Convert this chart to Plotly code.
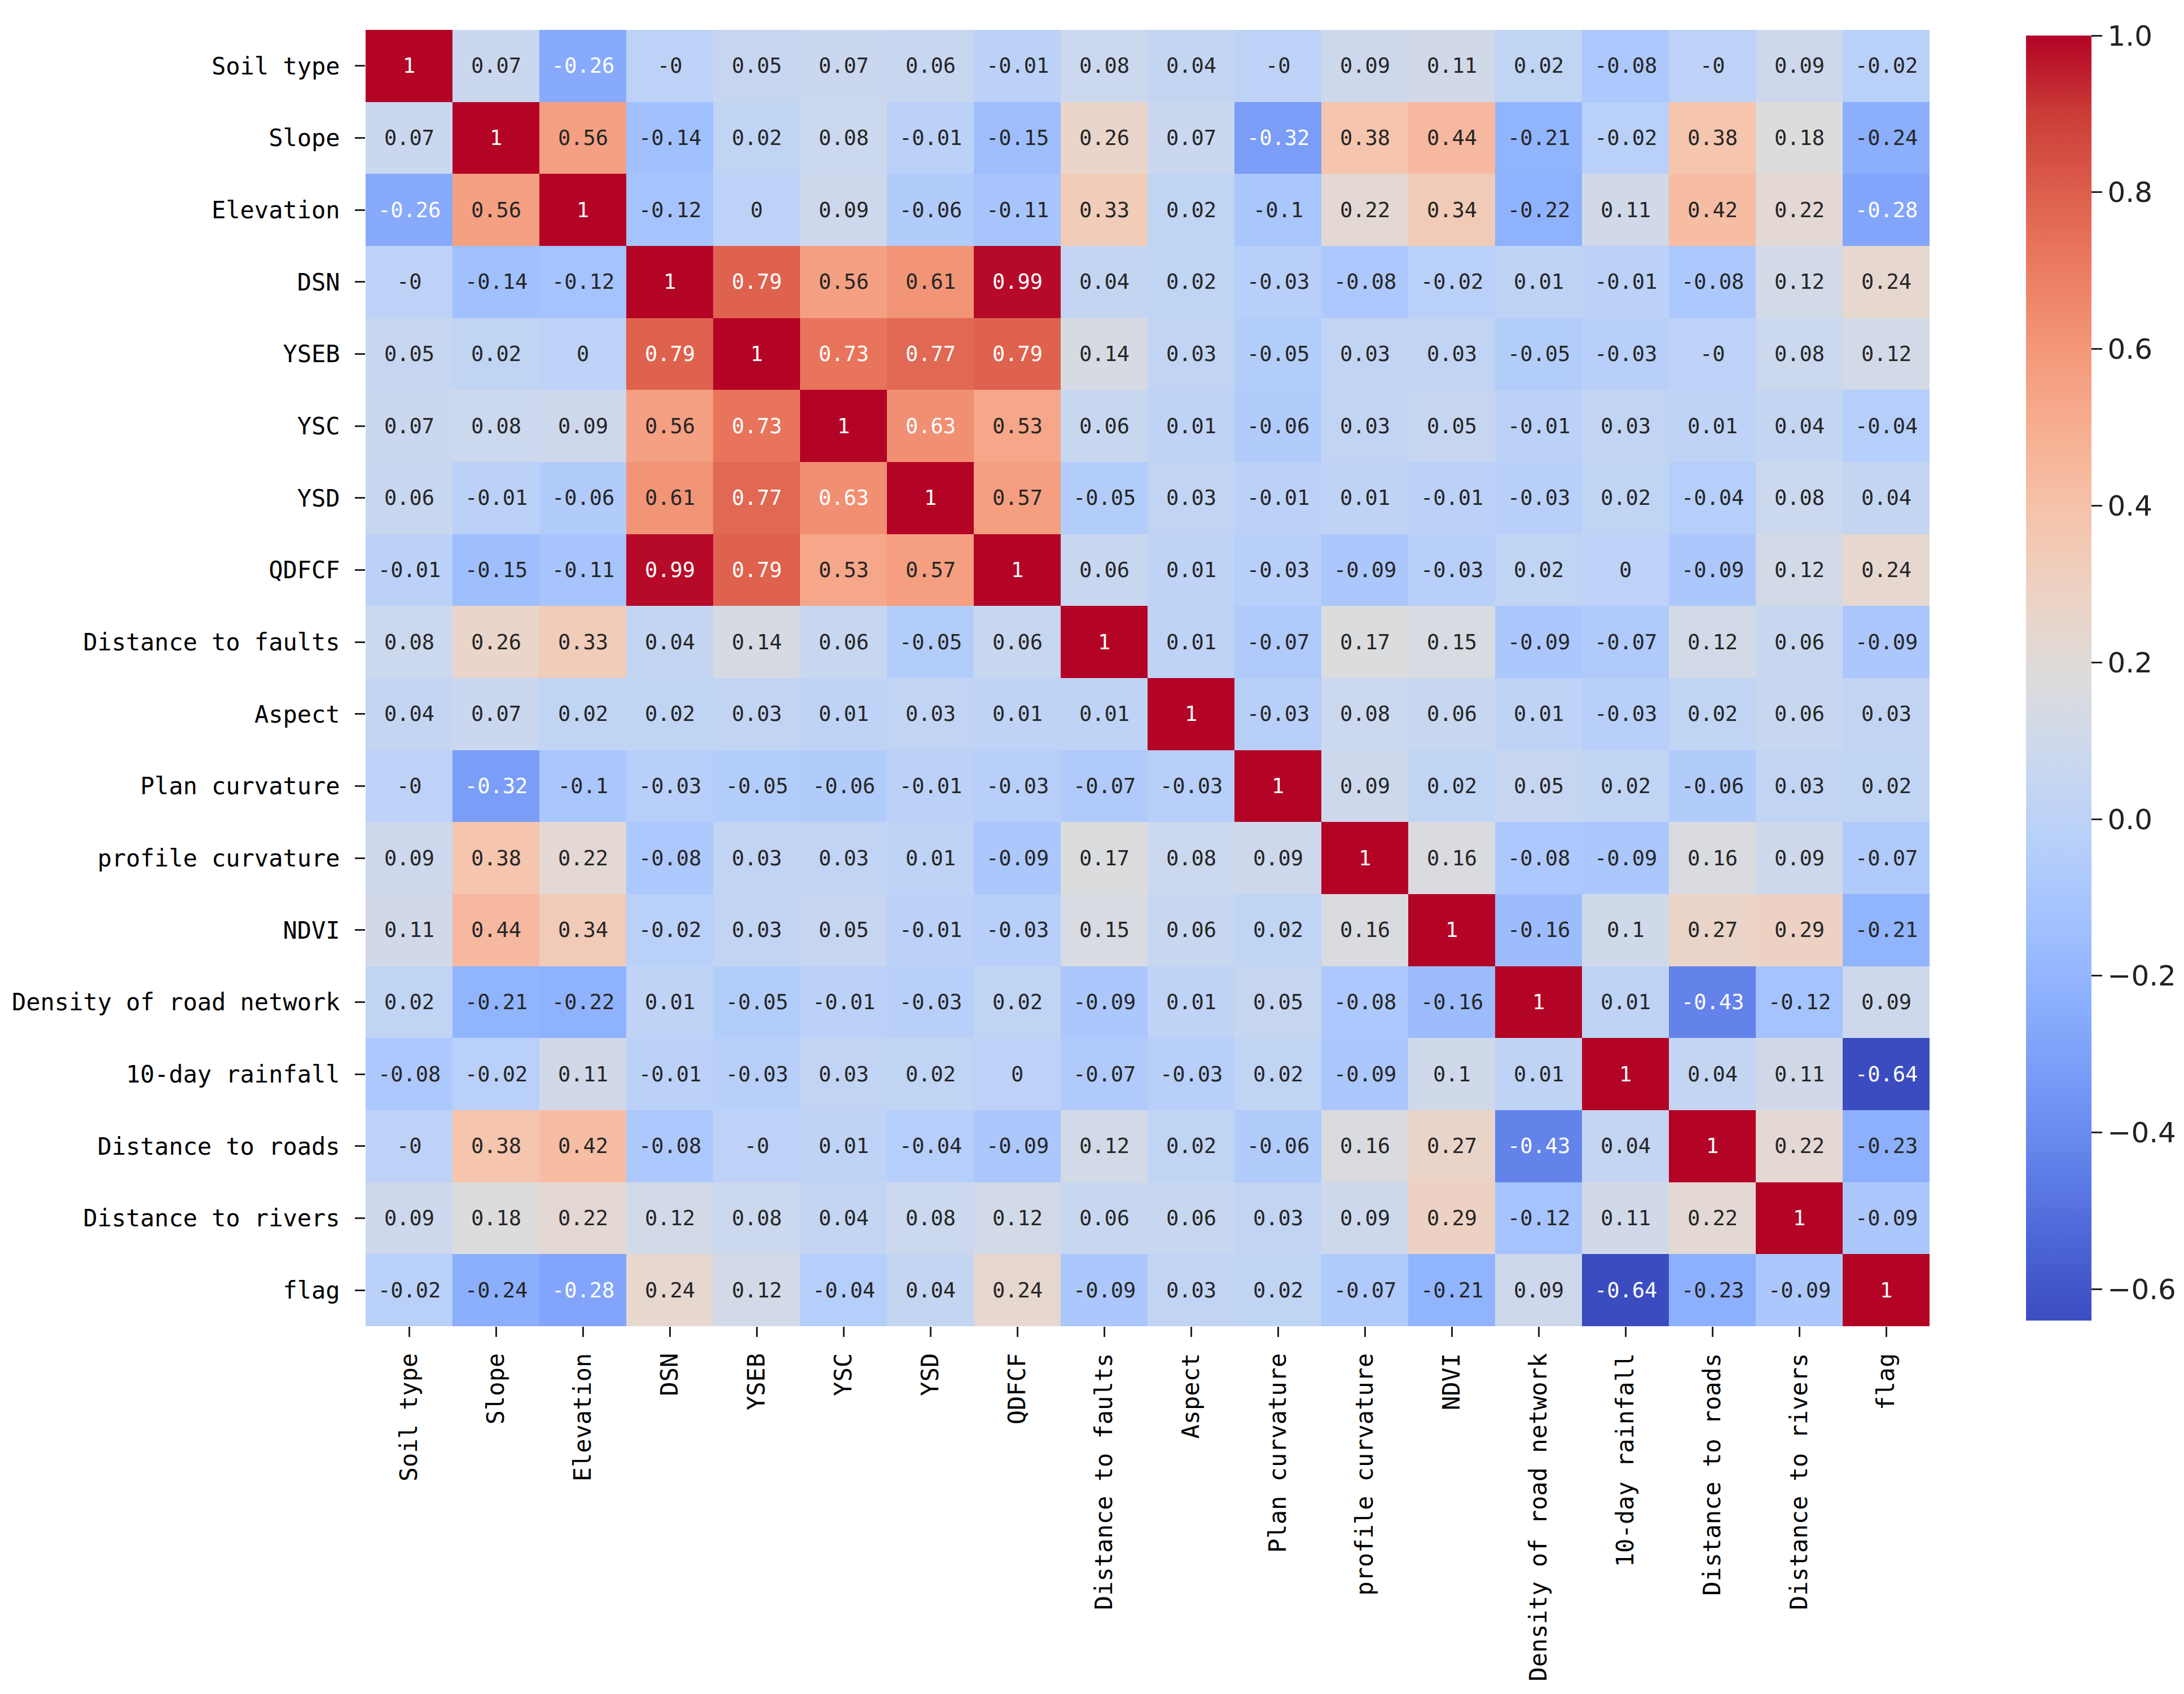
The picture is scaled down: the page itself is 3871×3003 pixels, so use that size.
import plotly.graph_objects as go

# variable names (same order on both axes)
labels = ["Soil type", "Slope", "Elevation", "DSN", "YSEB", "YSC", "YSD", "QDFCF",
          "Distance to faults", "Aspect", "Plan curvature", "profile curvature", "NDVI",
          "Density of road network", "10-day rainfall", "Distance to roads",
          "Distance to rivers", "flag"]

# correlation matrix, rows in label order (-0.0 kept so it prints as "-0")
soil_type = [1, 0.07, -0.26, -0.0, 0.05, 0.07, 0.06, -0.01, 0.08, 0.04, -0.0, 0.09, 0.11, 0.02, -0.08, -0.0, 0.09, -0.02]
slope = [0.07, 1, 0.56, -0.14, 0.02, 0.08, -0.01, -0.15, 0.26, 0.07, -0.32, 0.38, 0.44, -0.21, -0.02, 0.38, 0.18, -0.24]
elevation = [-0.26, 0.56, 1, -0.12, 0, 0.09, -0.06, -0.11, 0.33, 0.02, -0.1, 0.22, 0.34, -0.22, 0.11, 0.42, 0.22, -0.28]
dsn = [-0.0, -0.14, -0.12, 1, 0.79, 0.56, 0.61, 0.99, 0.04, 0.02, -0.03, -0.08, -0.02, 0.01, -0.01, -0.08, 0.12, 0.24]
yseb = [0.05, 0.02, 0, 0.79, 1, 0.73, 0.77, 0.79, 0.14, 0.03, -0.05, 0.03, 0.03, -0.05, -0.03, -0.0, 0.08, 0.12]
ysc = [0.07, 0.08, 0.09, 0.56, 0.73, 1, 0.63, 0.53, 0.06, 0.01, -0.06, 0.03, 0.05, -0.01, 0.03, 0.01, 0.04, -0.04]
ysd = [0.06, -0.01, -0.06, 0.61, 0.77, 0.63, 1, 0.57, -0.05, 0.03, -0.01, 0.01, -0.01, -0.03, 0.02, -0.04, 0.08, 0.04]
qdfcf = [-0.01, -0.15, -0.11, 0.99, 0.79, 0.53, 0.57, 1, 0.06, 0.01, -0.03, -0.09, -0.03, 0.02, 0, -0.09, 0.12, 0.24]
dist_faults = [0.08, 0.26, 0.33, 0.04, 0.14, 0.06, -0.05, 0.06, 1, 0.01, -0.07, 0.17, 0.15, -0.09, -0.07, 0.12, 0.06, -0.09]
aspect = [0.04, 0.07, 0.02, 0.02, 0.03, 0.01, 0.03, 0.01, 0.01, 1, -0.03, 0.08, 0.06, 0.01, -0.03, 0.02, 0.06, 0.03]
plan_curv = [-0.0, -0.32, -0.1, -0.03, -0.05, -0.06, -0.01, -0.03, -0.07, -0.03, 1, 0.09, 0.02, 0.05, 0.02, -0.06, 0.03, 0.02]
profile_curv = [0.09, 0.38, 0.22, -0.08, 0.03, 0.03, 0.01, -0.09, 0.17, 0.08, 0.09, 1, 0.16, -0.08, -0.09, 0.16, 0.09, -0.07]
ndvi = [0.11, 0.44, 0.34, -0.02, 0.03, 0.05, -0.01, -0.03, 0.15, 0.06, 0.02, 0.16, 1, -0.16, 0.1, 0.27, 0.29, -0.21]
road_density = [0.02, -0.21, -0.22, 0.01, -0.05, -0.01, -0.03, 0.02, -0.09, 0.01, 0.05, -0.08, -0.16, 1, 0.01, -0.43, -0.12, 0.09]
rainfall_10d = [-0.08, -0.02, 0.11, -0.01, -0.03, 0.03, 0.02, 0, -0.07, -0.03, 0.02, -0.09, 0.1, 0.01, 1, 0.04, 0.11, -0.64]
dist_roads = [-0.0, 0.38, 0.42, -0.08, -0.0, 0.01, -0.04, -0.09, 0.12, 0.02, -0.06, 0.16, 0.27, -0.43, 0.04, 1, 0.22, -0.23]
dist_rivers = [0.09, 0.18, 0.22, 0.12, 0.08, 0.04, 0.08, 0.12, 0.06, 0.06, 0.03, 0.09, 0.29, -0.12, 0.11, 0.22, 1, -0.09]
flag = [-0.02, -0.24, -0.28, 0.24, 0.12, -0.04, 0.04, 0.24, -0.09, 0.03, 0.02, -0.07, -0.21, 0.09, -0.64, -0.23, -0.09, 1]

corr = [soil_type, slope, elevation, dsn, yseb, ysc, ysd, qdfcf, dist_faults, aspect,
        plan_curv, profile_curv, ndvi, road_density, rainfall_10d, dist_roads,
        dist_rivers, flag]

cb_ticks = [-0.6, -0.4, -0.2, 0.0, 0.2, 0.4, 0.6, 0.8, 1.0]

# matplotlib "coolwarm"
coolwarm = [
    [0.0, "#3b4cc0"], [0.0625, "#4c66d6"], [0.125, "#6282ea"], [0.1875, "#779af7"],
    [0.25, "#8db0fe"], [0.3125, "#a3c2fe"], [0.375, "#b8d0f9"], [0.4375, "#cbd8ee"],
    [0.5, "#dddcdc"], [0.5625, "#ecd3c5"], [0.625, "#f5c4ac"], [0.6875, "#f7b093"],
    [0.75, "#f49a7b"], [0.8125, "#ec7f63"], [0.875, "#de604d"], [0.9375, "#cb3e38"],
    [1.0, "#b40426"],
]

mono = "DejaVu Sans Mono"

fig = go.Figure(go.Heatmap(
    z=corr, x=labels, y=labels,
    colorscale=coolwarm, zmin=-0.64, zmax=1.0,
    colorbar=dict(
        x=1.058, xanchor="left", y=0.5, yanchor="middle", len=1.0,
        thickness=116, outlinewidth=0,
        tickvals=cb_ticks, ticktext=[f"{t:.1f}".replace("-", "\u2212") for t in cb_ticks],
        ticks="outside", ticklen=19, tickwidth=3, tickcolor="#222",
        tickfont=dict(family="DejaVu Sans", size=50, color="#222"),
    ),
))

# cell annotations, light text on the strongest colours
annotations = []
for i, row in enumerate(corr):
    for j, v in enumerate(row):
        dark = v >= 0.62 or v <= -0.25
        annotations.append(dict(
            x=labels[j], y=labels[i], text=f"{v:g}", showarrow=False,
            font=dict(family=mono, size=37, color="white" if dark else "#262626"),
        ))

fig.update_layout(
    width=3871, height=3003,
    margin=dict(l=640, r=422, t=45, b=660),
    paper_bgcolor="white", plot_bgcolor="white",
    annotations=annotations,
    xaxis=dict(
        tickangle=-90, ticks="outside", ticklen=18, tickwidth=3, tickcolor="#222",
        tickfont=dict(family=mono, size=42, color="black"), automargin=False,
        showgrid=False, zeroline=False, showline=False, ticklabelstandoff=12,
    ),
    yaxis=dict(
        autorange="reversed", ticks="outside", ticklen=18, tickwidth=3, tickcolor="#222",
        tickfont=dict(family=mono, size=42, color="black"), automargin=False,
        showgrid=False, zeroline=False, showline=False, ticklabelstandoff=18,
    ),
)

fig.write_html("out.html")
